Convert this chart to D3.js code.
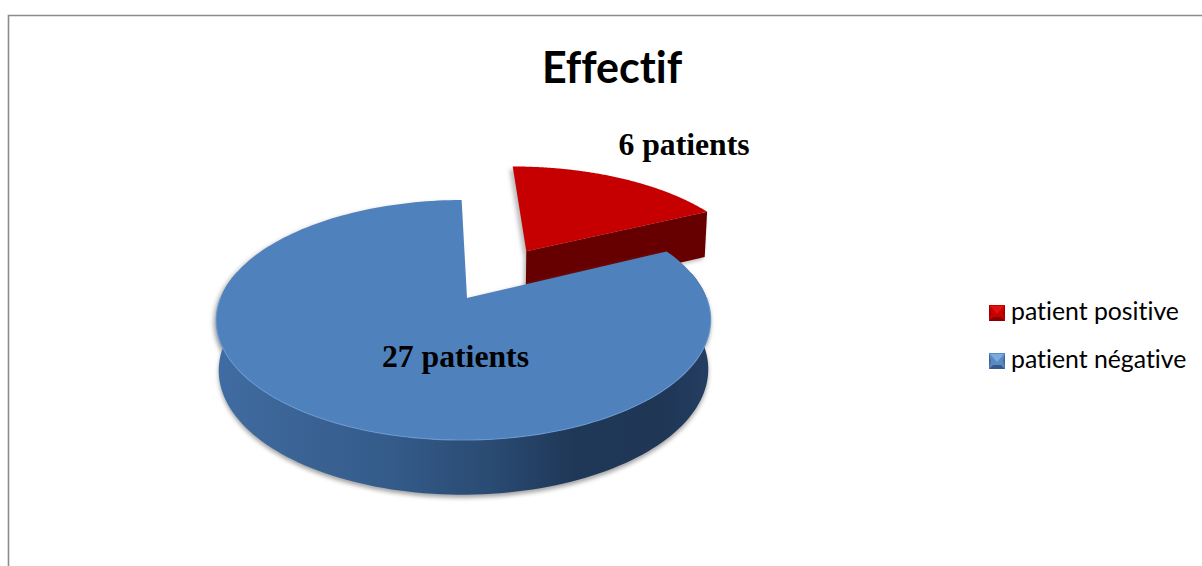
<!DOCTYPE html>
<html>
<head>
<meta charset="utf-8">
<script src="https://cdn.jsdelivr.net/npm/d3@7/dist/d3.min.js"></script>
<style>
  html, body { margin: 0; padding: 0; background: #fff; }
  svg { display: block; }
  text { font-variant-ligatures: none; font-feature-settings: "liga" 0, "clig" 0; }
</style>
</head>
<body>
<svg id="chart" width="1202" height="566"></svg>
<script>
// Chart content
const chartTitle = "Effectif";
const categories = ["patient positive", "patient négative"];
const patientCounts = [6, 27];
const sliceLabels = ["6 patients", "27 patients"];
const topColors = ["#c60000", "#4f81bd"];
const wallColors = ["#660000", "#335a8a"];
const explosion = [0.51, 0];

const svg = d3.select("#chart");
const defs = svg.append("defs");

// Perspective camera for the tilted disc
const apexX = 467, apexY = 298;
const scaleU = 243, scaleV = 116, tiltV = 0.1833, tiltU = -0.0141;

function project(u, v, lowered) {
  const w = 1 - tiltV * v - tiltU * u;
  const shrink = lowered ? 0.99 : 1;
  const drop = lowered ? 24 + 25 / w : 0;
  return [
    apexX + shrink * scaleU * u / w,
    apexY + scaleV * v / w + drop
  ];
}

// Disc coordinates for an angle measured clockwise from twelve o'clock
const rimPoint = (a, off) => [off.u + Math.sin(a), off.v - Math.cos(a)];
const lineGen = d3.line();
const closed = pts => lineGen(pts) + "Z";

const firstAngle = -1.5 * Math.PI / 180;
const pie = d3.pie().sort(null).value(d => d)
  .startAngle(firstAngle).endAngle(firstAngle + 2 * Math.PI);
const arcs = pie(patientCounts).map((d, i) => {
  const mid = (d.startAngle + d.endAngle) / 2;
  const off = { u: explosion[i] * Math.sin(mid), v: -explosion[i] * Math.cos(mid) };
  const steps = d3.range(0, 181).map(t =>
    d3.interpolateNumber(d.startAngle, d.endAngle)(t / 180));
  return { ...d, i, off, steps };
});

// Wall shading runs from left to right across the blue drum
const wallStops = [
  [0, "#3f6ca3"], [0.12, "#3c6698"], [0.35, "#345b8a"],
  [0.55, "#2a4b73"], [0.72, "#203858"], [0.9, "#1f3655"], [1, "#243e62"]
];
const wallGrad = defs.append("linearGradient")
  .attr("id", "wallShade").attr("gradientUnits", "userSpaceOnUse")
  .attr("x1", 216).attr("x2", 711).attr("y1", 0).attr("y2", 0);
wallStops.forEach(s => wallGrad.append("stop").attr("offset", s[0]).attr("stop-color", s[1]));

defs.append("filter").attr("id", "softShadow")
  .attr("x", "-10%").attr("y", "-10%").attr("width", "120%").attr("height", "120%")
  .append("feGaussianBlur").attr("stdDeviation", 2.2);

// Chart frame: only the top and left edges sit inside the page
svg.append("path").attr("d", "M8.5,566V15.5H1202")
  .attr("fill", "none").attr("stroke", "#8c8c8c").attr("stroke-width", 1.6);

const topPath = d => closed([
  project(d.off.u, d.off.v, false),
  ...d.steps.map(a => project(...rimPoint(a, d.off), false))
]);

// Wall built from one quad per rim step so the silhouette stays tangent to both rims
const wallPath = d => {
  const front = d.steps.filter(a => Math.cos(a) < 0.25);
  return d3.pairs(front).map(([a, b]) => closed([
    project(...rimPoint(a, d.off), false),
    project(...rimPoint(b, d.off), false),
    project(...rimPoint(b, d.off), true),
    project(...rimPoint(a, d.off), true)
  ])).join("");
};
const lastFace = d => {
  const end = rimPoint(d.endAngle, d.off);
  return closed([
    project(d.off.u, d.off.v, false), project(...end, false),
    project(...end, true), project(d.off.u, d.off.v, true)
  ]);
};

const red = arcs[0], blue = arcs[1];

// Exploded slice: soft shadow, cut face, then its top
svg.append("path").attr("d", lastFace(red))
  .attr("transform", "translate(-2,2)").attr("fill", "#777").attr("opacity", 0.55)
  .attr("filter", "url(#softShadow)");
svg.append("path").attr("d", topPath(red))
  .attr("transform", "translate(-3,3)").attr("fill", "#777").attr("opacity", 0.5)
  .attr("filter", "url(#softShadow)");
svg.append("path").attr("d", lastFace(red)).attr("fill", wallColors[0]);
svg.append("path").attr("d", topPath(red)).attr("fill", topColors[0]);

// Main slice: soft shadow, drum wall, top, and a bright lip on the near rim
svg.append("path").attr("d", wallPath(blue))
  .attr("transform", "translate(0,3)").attr("fill", "#666").attr("opacity", 0.6)
  .attr("filter", "url(#softShadow)");
svg.append("path").attr("d", topPath(blue))
  .attr("transform", "translate(-3,2)").attr("fill", "#777").attr("opacity", 0.45)
  .attr("filter", "url(#softShadow)");
svg.append("path").attr("d", wallPath(blue)).attr("fill", "url(#wallShade)");
svg.append("path").attr("d", topPath(blue)).attr("fill", topColors[1]);

const nearRim = blue.steps.filter(a => Math.cos(a) < 0.02)
  .map(a => project(...rimPoint(a, blue.off), false));
svg.append("path").attr("d", lineGen(nearRim))
  .attr("fill", "none").attr("stroke", "#6d9cd6").attr("stroke-width", 1.1).attr("opacity", 0.8);

// Title and slice labels
svg.append("text").text(chartTitle)
  .attr("x", 612).attr("y", 83).attr("text-anchor", "middle")
  .attr("font-family", "Lato, 'Open Sans', sans-serif")
  .attr("font-weight", 700).attr("font-size", 43).attr("fill", "#000");

const labelAnchors = [[684, 155], [455.5, 367]];
svg.selectAll("text.slice").data(sliceLabels).join("text")
  .attr("class", "slice")
  .text(d => d)
  .attr("x", (d, i) => labelAnchors[i][0]).attr("y", (d, i) => labelAnchors[i][1])
  .attr("text-anchor", "middle")
  .attr("font-family", "'Liberation Serif', serif")
  .attr("font-weight", 700).attr("font-size", 31.7).attr("fill", "#000");

// Legend with bevelled swatches
const legendY = d3.scalePoint().domain(categories).range([313, 361]);
const bevels = [
  { light: "#f01818", top: "#e01010", mid: "#c80000", dark: "#8a0000" },
  { light: "#7cabe0", top: "#7cabe0", mid: "#5a8ac4", dark: "#335a8a" }
];
const legend = svg.selectAll("g.legend").data(categories).join("g")
  .attr("class", "legend")
  .attr("transform", d => `translate(989,${legendY(d)})`);

legend.each(function (d, i) {
  const g = d3.select(this), s = 8, n = 4, b = bevels[i];
  g.append("rect").attr("x", 0).attr("y", -s).attr("width", 2 * s).attr("height", 2 * s).attr("fill", b.mid);
  g.append("path").attr("d", closed([[1, -s + 1], [2 * s - 1, -s + 1], [s, 1]])).attr("fill", b.top);
  g.append("path").attr("d", closed([[0, s], [2 * s, s], [2 * s - n, s - n], [n, s - n]])).attr("fill", b.dark);
  g.append("path").attr("d", closed([[0, -s], [2, 0], [0, s]])).attr("fill", b.dark).attr("opacity", 0.7);
  g.append("path").attr("d", closed([[2 * s, -s], [2 * s - 2, 0], [2 * s, s]])).attr("fill", b.dark).attr("opacity", 0.7);
  g.append("text").text(d).attr("x", 22).attr("y", 7)
    .attr("font-family", "Lato, 'Open Sans', sans-serif")
    .attr("font-size", 24.8).attr("fill", "#000");
});
</script>
</body>
</html>
